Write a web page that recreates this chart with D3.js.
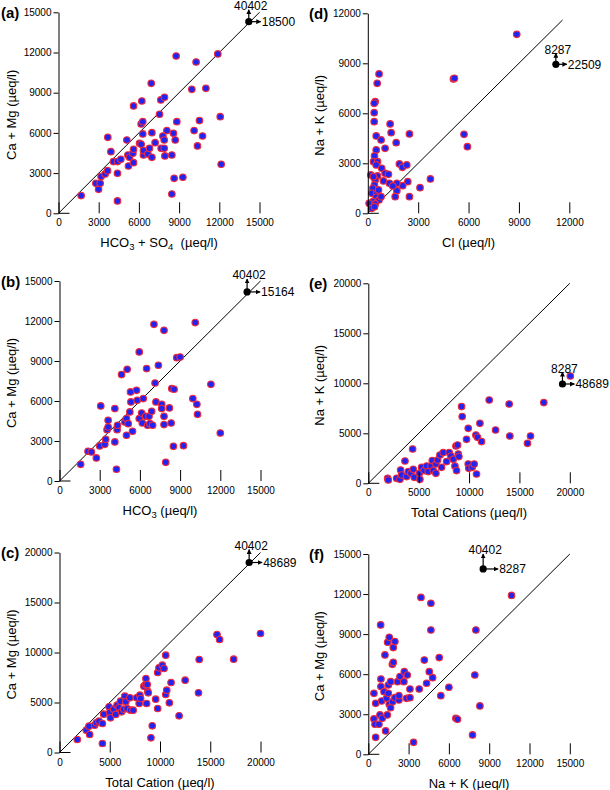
<!DOCTYPE html>
<html><head><meta charset="utf-8">
<script src="https://cdn.jsdelivr.net/npm/d3@7/dist/d3.min.js"></script>
<style>
body{margin:0;background:#fff}
svg{display:block}
text{font-family:"Liberation Sans",Arial,Helvetica,sans-serif;fill:#000}
</style>
</head><body>
<svg id="chart" width="610" height="790"></svg>
<script>
// ---------- DATA (µeq/l) ----------
// (a) HCO3+SO4 vs Ca+Mg
const ptsA = [[1690,1320],[2790,2240],[2990,1790],[3110,2240],[3180,2740],[3480,2940],[3660,3180],[3680,5670],[3910,4600],[4100,3860],[4400,2990],[4400,920],[4400,3860],[4650,4030],[5100,5470],[5180,4350],[5220,3530],[5300,4180],[5550,4480],[5600,8010],[5600,4780],[5600,3780],[6050,5220],[6170,5150],[6170,6670],[6220,8380],[6290,6840],[6290,5920],[6340,4350],[6340,4680],[6670,4430],[6790,4850],[6920,9700],[6970,6020],[6970,4180],[7210,5270],[7540,7390],[7640,8460],[7660,4850],[7790,5770],[7890,5470],[7890,4850],[7910,8660],[7940,4280],[8090,6170],[8460,1440],[8460,4350],[8580,5970],[8630,2610],[8710,5470],[8780,11740],[8830,6840],[9280,2690],[9950,9250],[10120,6170],[10270,11290],[10370,5030],[10520,6920],[10750,5770],[11000,9330],[11890,11890],[12070,7210],[12140,3660]];
// (b) HCO3 vs Ca+Mg
const ptsB = [[1580,1250],[2130,2230],[2380,2180],[2750,1730],[3000,2630],[3080,5630],[3380,2750],[3450,3130],[3550,3850],[3630,4550],[3630,4050],[4130,5430],[4130,2930],[4250,880],[4300,3850],[4330,4180],[4630,7980],[4880,4430],[5000,3430],[5000,4680],[5050,8380],[5130,4300],[5250,5180],[5300,6680],[5330,5930],[5450,3730],[5750,6800],[5800,6050],[5950,9680],[5950,4680],[6130,5100],[6180,4350],[6250,6180],[6430,4850],[6500,8430],[6580,4180],[6680,4850],[6750,4300],[6880,5230],[6950,4180],[7050,11750],[7130,7350],[7200,5930],[7380,8680],[7630,5750],[7630,5430],[7800,4850],[7800,11300],[7800,4230],[7930,1400],[8200,5480],[8330,4350],[8380,6930],[8500,2600],[8550,6880],[8750,9250],[9000,9300],[9250,2650],[9950,6180],[10130,11880],[10250,5750],[10300,5000],[11300,7250],[12000,3600]];
// (c) Total cation vs Ca+Mg
const ptsC = [[1770,1300],[2670,2230],[2930,2630],[3000,1800],[3500,2730],[3670,2970],[3930,3130],[4270,900],[4270,2900],[4400,3830],[4930,4570],[5000,4000],[5070,3470],[5400,4330],[5600,3800],[5730,4730],[5930,4470],[6070,5130],[6170,4070],[6400,4330],[6500,5630],[6600,5070],[6730,4400],[7000,5470],[7070,4230],[7330,4230],[7670,5470],[7930,4900],[8000,5730],[8070,5400],[8400,6630],[8570,6800],[8600,7400],[8670,4900],[8730,6800],[8770,6130],[8830,5970],[9100,1470],[9230,2670],[9570,5330],[9770,4400],[9770,8000],[9900,8470],[10230,8730],[10400,8400],[10570,9730],[10570,5800],[10670,6230],[10930,4970],[11100,7000],[11900,3670],[12500,7230],[13830,5970],[13900,9300],[15670,11800],[15930,11300],[17330,9330],[20000,11900]];
// (d) Cl vs Na+K
const ptsD = [[8870,10740],[5100,8060],[5160,8100],[670,8360],[560,7800],[440,6700],[380,6600],[380,6040],[380,5500],[1330,5360],[1390,4840],[500,4640],[790,4400],[1690,4240],[2480,4760],[5730,4740],[5930,4000],[1030,3900],[500,3800],[400,3440],[340,3100],[580,3100],[500,2900],[830,2700],[1880,2960],[2060,2760],[2320,2900],[180,2300],[580,2240],[1030,2400],[1230,2340],[930,1940],[440,2000],[400,1700],[1290,1800],[2380,1900],[3730,2060],[3110,1540],[2080,1660],[1730,1800],[1730,1360],[1630,1000],[2480,1000],[300,1500],[240,1200],[540,1200],[500,960],[670,800],[300,700],[80,600],[440,560],[790,1000],[240,300],[400,400],[640,1400],[340,2200],[1490,1640]];
// (e) Total cations vs Na+K
const ptsE = [[1920,500],[1980,330],[2810,500],[3140,400],[3210,1330],[3310,830],[3640,2230],[3800,670],[3970,1170],[4230,1000],[4400,3430],[4460,1400],[4560,600],[5060,1000],[5120,400],[5290,1600],[5550,1270],[5790,1730],[5950,1170],[6220,1730],[6350,2270],[6450,1270],[6710,1930],[6710,1000],[6880,2330],[7110,2830],[7270,1600],[7440,3070],[7770,2170],[8030,3070],[8200,2730],[8430,2400],[8600,1730],[8700,3730],[8760,1270],[8860,3830],[8930,2930],[8990,2670],[9260,7670],[9320,6670],[9750,4400],[9920,5500],[9920,1930],[9980,1500],[10310,1600],[10510,1930],[10680,4830],[10740,930],[10840,4600],[11080,6000],[11240,4170],[12000,8330],[12630,5330],[13980,7930],[14050,4730],[15800,4000],[16100,4730],[17420,8070],[20050,10730]];
// (f) Na+K vs Ca+Mg
const ptsF = [[420,4570],[420,2650],[500,2250],[550,1270],[550,3820],[790,2250],[870,2950],[920,9690],[940,5640],[940,5070],[990,3990],[1040,2700],[1170,4690],[1240,7440],[1290,1750],[1360,4190],[1410,2950],[1440,8390],[1490,4570],[1490,5190],[1560,8760],[1560,3740],[1660,3490],[1660,5440],[1790,6740],[1810,3940],[1860,7990],[1860,6890],[1980,4240],[1980,8440],[2180,5440],[2280,4070],[2280,4390],[2360,5820],[2650,5440],[2680,6190],[2850,4190],[2900,5940],[3100,4240],[3100,4890],[3370,900],[3790,4890],[3920,11750],[4170,7060],[4340,5320],[4540,6190],[4660,11310],[4660,9310],[4790,5740],[5280,7240],[6000,5020],[5400,4390],[6520,2700],[6640,2620],[7760,1450],[7930,5940],[8010,9310],[8310,3620],[10660,11900]];

// Off-scale samples drawn as black dots with arrows: [x, y, label above, label right]
const outA = [14200, 14300, "40402", "18500"];
const outB = [14000, 14180, "40402", "15164"];
const outC = [18870, 19000, "40402", "48689"];
const outD = [11200, 8940, "8287", "22509"];
const outE = [19270, 9930, "8287", "48689"];
const outF = [8550, 13880, "40402", "8287"];

// Tick values
const ticks15k = [0, 3000, 6000, 9000, 12000, 15000];
const ticks12k = [0, 3000, 6000, 9000, 12000];
const ticks20k = [0, 5000, 10000, 15000, 20000];

// Labels
const panelLabels = ["(a)", "(b)", "(c)", "(d)", "(e)", "(f)"];
const xTitles = [
  [["HCO",0],["3",1],[" + SO",0],["4",1],["\u00a0\u00a0(µeq/l)",0]],
  [["HCO",0],["3",1],[" (µeq/l)",0]],
  [["Total Cation (µeq/l)",0]],
  [["Cl (µeq/l)",0]],
  [["Total Cations (µeq/l)",0]],
  [["Na + K (µeq/l)",0]]
];
const yTitles = ["Ca + Mg (µeq/l)", "Ca + Mg (µeq/l)", "Ca + Mg (µeq/l)", "Na + K (µeq/l)", "Na + K (µeq/l)", "Ca + Mg (µeq/l)"];

// ---------- BUILD ----------
const panels = [
  {data: ptsA, out: outA, xT: ticks15k, yT: ticks15k, lineMax: 15000, frame:{l:58.5,t:12.3,w:201,h:201}, arrow:12},
  {data: ptsB, out: outB, xT: ticks15k, yT: ticks15k, lineMax: 15000, frame:{l:59.5,t:281,w:201,h:200}, arrow:13},
  {data: ptsC, out: outC, xT: ticks20k, yT: ticks20k, lineMax: 20000, frame:{l:59.5,t:552.5,w:201,h:200}, arrow:13},
  {data: ptsD, out: outD, xT: ticks12k, yT: ticks12k, lineMax: 11600, frame:{l:367.8,t:13.3,w:201.5,h:200}, arrow:11},
  {data: ptsE, out: outE, xT: ticks20k, yT: ticks20k, lineMax: 20000, frame:{l:368.3,t:283.3,w:201.5,h:200}, arrow:12},
  {data: ptsF, out: outF, xT: ticks15k, yT: ticks15k, lineMax: 15000, frame:{l:368.3,t:554,w:201.5,h:200.3}, arrow:15}
];

const svg = d3.select("#chart");
const defs = svg.append("defs");
defs.append("marker").attr("id","ah").attr("viewBox","0 0 10 10")
  .attr("refX",9).attr("refY",5).attr("markerWidth",5).attr("markerHeight",5)
  .attr("markerUnits","userSpaceOnUse").attr("orient","auto")
  .append("path").attr("d","M0,0 L10,5 L0,10 Z").attr("fill","#000");

panels.forEach((p, i) => {
  const f = p.frame;
  const xMax = p.xT[p.xT.length-1], yMax = p.yT[p.yT.length-1];
  const x = d3.scaleLinear().domain([0, xMax]).range([f.l, f.l + f.w]);
  const y = d3.scaleLinear().domain([0, yMax]).range([f.t + f.h, f.t]);
  const g = svg.append("g");

  // 1:1 line
  g.append("line")
    .attr("x1", x(0)).attr("y1", y(0))
    .attr("x2", x(p.lineMax)).attr("y2", y(p.lineMax))
    .attr("stroke","#000").attr("stroke-width",1);

  // points
  g.append("g").selectAll("circle").data(p.data).join("circle")
    .attr("cx", d => x(d[0])).attr("cy", d => y(d[1]))
    .attr("r", 3.3)
    .attr("fill", "#1f24f2").attr("stroke", "#ef2a3c").attr("stroke-width", 1.1);

  // off-scale sample
  const ox = x(p.out[0]), oy = y(p.out[1]);
  g.append("line").attr("x1",ox).attr("y1",oy).attr("x2",ox).attr("y2",oy - p.arrow)
    .attr("stroke","#000").attr("stroke-width",1.2).attr("marker-end","url(#ah)");
  g.append("line").attr("x1",ox).attr("y1",oy).attr("x2",ox + p.arrow).attr("y2",oy)
    .attr("stroke","#000").attr("stroke-width",1.2).attr("marker-end","url(#ah)");
  g.append("circle").attr("cx",ox).attr("cy",oy).attr("r",3.6).attr("fill","#000");
  g.append("text").attr("x",ox + 2).attr("y",oy - p.arrow + 0.5)
    .attr("text-anchor","middle").attr("font-size",12).text(p.out[2]);
  g.append("text").attr("x",ox + p.arrow + 1).attr("y",oy)
    .attr("dy","0.36em").attr("font-size",12).text(p.out[3]);

  // y axis
  const ya = g.append("g").attr("transform",`translate(${f.l},0)`)
    .call(d3.axisLeft(y).tickValues(p.yT).tickFormat(d3.format("d")).tickSize(5).tickSizeOuter(0).tickPadding(2));
  ya.selectAll("text").attr("font-size",10).attr("font-family",null);
  ya.selectAll("line,path").attr("stroke","#000").attr("stroke-width",1);

  // x axis: ticks pointing up, no full baseline
  const xa = g.append("g").attr("transform",`translate(0,${f.t + f.h})`)
    .call(d3.axisBottom(x).tickValues(p.xT).tickFormat(d3.format("d")).tickSize(-11).tickPadding(6));
  xa.select(".domain").remove();
  xa.selectAll("text").attr("font-size",10).attr("font-family",null);
  xa.selectAll("line").attr("stroke","#000").attr("stroke-width",1);
  xa.append("line").attr("x1",f.l).attr("x2",f.l + 11).attr("y1",0).attr("y2",0)
    .attr("stroke","#000").attr("stroke-width",1);

  // panel label
  const lx = i < 3 ? 1 : 309;
  g.append("text").attr("x", lx).attr("y", f.t + 5.5)
    .attr("font-size",15).attr("font-weight","bold").text(panelLabels[i]);

  // x title
  const xt = g.append("text").attr("x", f.l + f.w/2).attr("y", f.t + f.h + 34)
    .attr("text-anchor","middle").attr("font-size",13);
  let prevSub = false;
  xTitles[i].forEach(s => {
    if (s[1]) { xt.append("tspan").attr("font-size",9.5).attr("dy",3).text(s[0]); prevSub = true; }
    else { xt.append("tspan").attr("dy", prevSub ? -3 : 0).text(s[0]); prevSub = false; }
  });

  // y title
  const ytx = i < 3 ? 16 : 324;
  g.append("text").attr("transform",`translate(${ytx},${f.t + f.h/2 + 2}) rotate(-90)`)
    .attr("text-anchor","middle").attr("font-size",13).text(yTitles[i]);
});
</script>
</body></html>
